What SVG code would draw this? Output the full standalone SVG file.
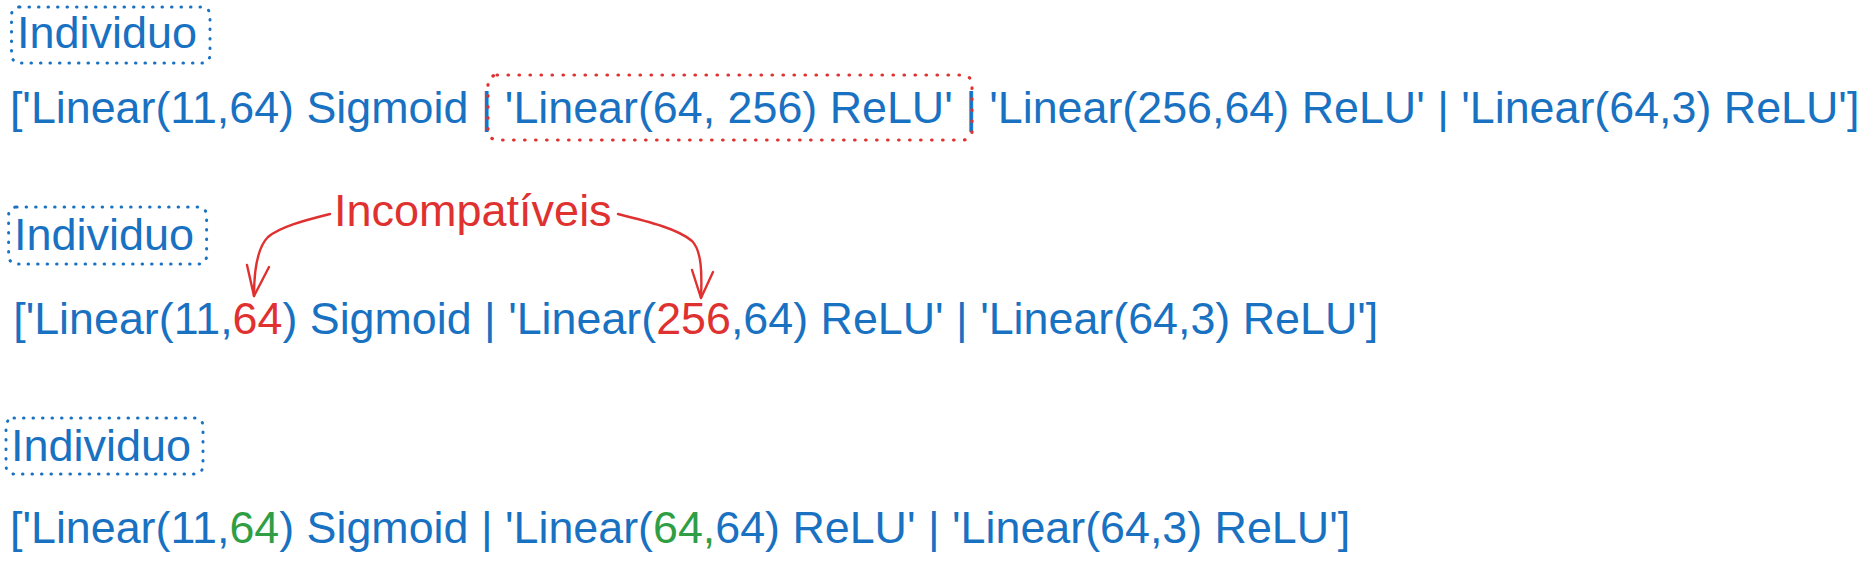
<svg xmlns="http://www.w3.org/2000/svg" width="1865" height="574" viewBox="0 0 1865 574">
  <style>
    .t { font-family: "Liberation Sans", Arial, sans-serif; font-size: 44.8px; fill: #1971c2; }
    .lbl { font-family: "Liberation Sans", Arial, sans-serif; font-size: 45px; fill: #1971c2; }
    .red { fill: #e03131; }
    .green { fill: #2f9e44; }
    .boxb { fill: none; stroke: #1971c2; stroke-width: 3; stroke-dasharray: 0.5 9; stroke-linecap: round; }
    .boxr { fill: none; stroke: #e03131; stroke-width: 3.2; stroke-dasharray: 0.5 10.5; stroke-linecap: round; }
    .conn { fill: none; stroke: #e03131; stroke-width: 2.4; stroke-linecap: round; stroke-linejoin: round; }
  </style>
  <rect width="1865" height="574" fill="#ffffff"/>

  <g id="individuo1">
    <rect class="boxb" x="11.5" y="7" width="198.5" height="56" rx="8"/>
    <text class="lbl" x="17" y="48">Individuo</text>
  </g>
  <g id="seq1">
    <text class="t" x="9.9" y="122.5" xml:space="preserve">['Linear(11,64) Sigmoid | 'Linear(64, 256) ReLU' | 'Linear(256,64) ReLU' | 'Linear(64,3) ReLU']</text>
  </g>
  <g id="highlight">
    <rect class="boxr" x="488" y="75" width="484" height="65" rx="9"/>
  </g>

  <g id="individuo2">
    <rect class="boxb" x="8.6" y="207" width="198" height="57" rx="8"/>
    <text class="lbl" x="14" y="250">Individuo</text>
  </g>
  <g id="incompativeis">
    <text class="lbl red" x="334" y="226">Incompatíveis</text>
  </g>
  <g id="seq2">
    <text class="t" x="13.2" y="334" xml:space="preserve">['Linear(11,<tspan class="red">64</tspan>) Sigmoid | 'Linear(<tspan class="red">256</tspan>,64) ReLU' | 'Linear(64,3) ReLU']</text>
  </g>

  <g id="individuo3">
    <rect class="boxb" x="6" y="418" width="197" height="56" rx="8"/>
    <text class="lbl" x="11" y="461">Individuo</text>
  </g>
  <g id="seq3">
    <text class="t" x="10" y="543" xml:space="preserve">['Linear(11,<tspan class="green">64</tspan>) Sigmoid | 'Linear(<tspan class="green">64,</tspan>64) ReLU' | 'Linear(64,3) ReLU']</text>
  </g>

  <g id="connectors">
    <path class="conn" d="M330,214 C302,221 280,227 268,237 C257,248 254,270 254,296"/>
    <path class="conn" d="M247,265 L254,296 L269,267"/>
    <path class="conn" d="M618,214 C650,222 678,229 692,241 C702,251 702,275 701,298"/>
    <path class="conn" d="M692,270 L701,298 L713,272"/>
  </g>
</svg>
